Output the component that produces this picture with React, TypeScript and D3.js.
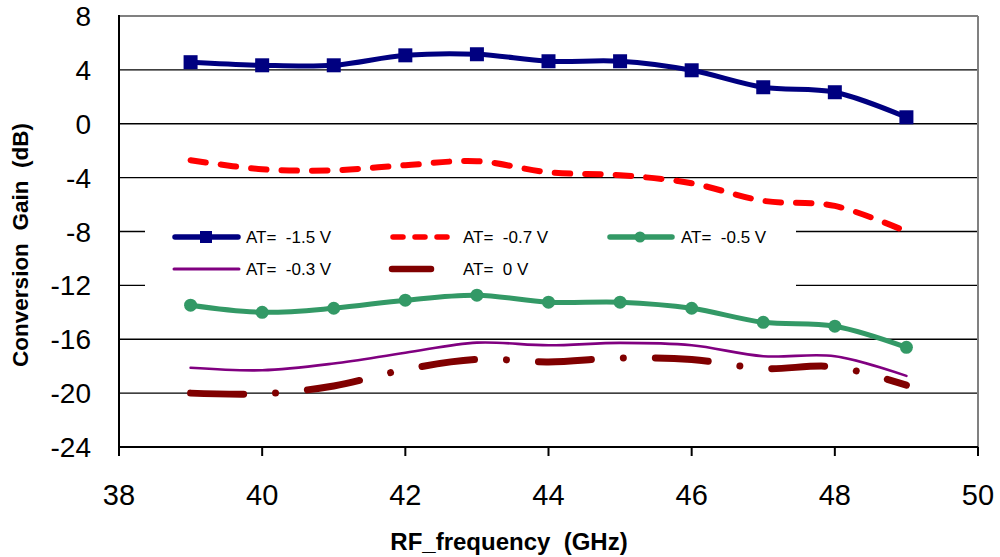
import React from "react";
import * as d3 from "d3";

const freqs = [39, 40, 41, 42, 43, 44, 45, 46, 47, 48, 49];
const gainM15 = [4.57, 4.34, 4.34, 5.08, 5.16, 4.64, 4.64, 3.97, 2.71, 2.34, 0.48];
const gainM07 = [-2.71, -3.38, -3.45, -3.08, -2.78, -3.6, -3.82, -4.42, -5.72, -6.1, -8.0];
const gainM05 = [-13.47, -14.0, -13.7, -13.1, -12.73, -13.25, -13.25, -13.7, -14.74, -15.03, -16.6];
const gainM03 = [-18.12, -18.3, -17.8, -17.0, -16.25, -16.45, -16.27, -16.45, -17.26, -17.26, -18.72];
const gain0 = [-20.0, -20.05, -19.47, -18.25, -17.5, -17.68, -17.39, -17.5, -18.17, -18.05, -19.41];

const xTicks = [38, 40, 42, 44, 46, 48, 50];
const yTicks = [8, 4, 0, -4, -8, -12, -16, -20, -24];
const legendLabels = ["AT=\u00a0 -1.5 V", "AT=\u00a0 -0.7 V", "AT=\u00a0 -0.5 V", "AT=\u00a0 -0.3 V", "AT=\u00a0 0 V"];

const W = 1000, H = 557;
const L = 119, R = 978, T = 16, B = 447;
const FONT = "'Liberation Sans', Arial, Helvetica, sans-serif";

export default function App() {
  const x = d3.scaleLinear().domain([38, 50]).range([L, R]);
  const y = d3.scaleLinear().domain([-24, 8]).range([B, T]);
  const line = d3
    .line<[number, number]>()
    .x((d) => x(d[0]))
    .y((d) => y(d[1]))
    .curve(d3.curveCardinal.tension(0));

  const series = [
    { vals: gainM15, color: "#000080", width: 5, dash: undefined as string | undefined, marker: "square" },
    { vals: gainM07, color: "#FF0000", width: 6, dash: "15.5 15", marker: "none" },
    { vals: gainM05, color: "#339966", width: 5, dash: undefined, marker: "circle" },
    { vals: gainM03, color: "#800080", width: 2.6, dash: undefined, marker: "none" },
    { vals: gain0, color: "#800000", width: 7, dash: "53 32 0.01 32", marker: "none" },
  ];

  const legendPos = [
    { lx1: 175, lx2: 238, tx: 246, ty: 237, mx: 206 },
    { lx1: 393, lx2: 448, tx: 463, ty: 237, mx: 0 },
    { lx1: 610, lx2: 672, tx: 681, ty: 237, mx: 640 },
    { lx1: 174, lx2: 239, tx: 246, ty: 269, mx: 0 },
    { lx1: 392, lx2: 431, tx: 463, ty: 269, mx: 0 },
  ];
  const legendDash = [undefined, "10 12", undefined, undefined, undefined];

  return (
    <svg
      width={W}
      height={H}
      style={{ position: "absolute", left: 0, top: 0, background: "#fff" }}
      fontFamily={FONT}
    >
      <rect x={0} y={0} width={W} height={H} fill="#fff" />
      {/* gridlines */}
      {yTicks
        .filter((t) => t !== 8 && t !== -24)
        .map((t) => (
          <line key={t} x1={L} x2={R} y1={y(t)} y2={y(t)} stroke="#000" strokeWidth={1.4} />
        ))}
      {/* frame */}
      <line x1={L} x2={R} y1={T} y2={T} stroke="#808080" strokeWidth={2} />
      <line x1={R} x2={R} y1={T} y2={B} stroke="#808080" strokeWidth={2} />
      <line x1={L} x2={L} y1={T - 1} y2={B + 1} stroke="#000" strokeWidth={2} />
      <line x1={L} x2={R} y1={B} y2={B} stroke="#000" strokeWidth={2} />
      {xTicks.map((t) => (
        <g key={t}>
          <line x1={x(t)} x2={x(t)} y1={B} y2={B + 9} stroke="#000" strokeWidth={2} />
          <text x={x(t)} y={505} textAnchor="middle" fontSize={29} fill="#000">
            {t}
          </text>
        </g>
      ))}
      {yTicks.map((t) => (
        <text key={t} x={91} y={y(t) + 10} textAnchor="end" fontSize={28} fill="#000">
          {t}
        </text>
      ))}
      {/* legend box */}
      <rect x={145} y={220} width={651} height={70} fill="#fff" />
      {/* series */}
      {series.map((s, i) => {
        const pts = freqs.map((f, j) => [f, s.vals[j]] as [number, number]);
        return (
          <g key={i}>
            <path
              d={line(pts) || ""}
              fill="none"
              stroke={s.color}
              strokeWidth={s.width}
              strokeDasharray={s.dash}
              strokeLinecap="round"
              strokeLinejoin="round"
            />
            {s.marker === "square" &&
              pts.map((p, j) => (
                <rect key={j} x={x(p[0]) - 7} y={y(p[1]) - 7} width={14} height={14} fill={s.color} />
              ))}
            {s.marker === "circle" &&
              pts.map((p, j) => <circle key={j} cx={x(p[0])} cy={y(p[1])} r={6.5} fill={s.color} />)}
          </g>
        );
      })}
      {/* legend */}
      {series.map((s, i) => {
        const p = legendPos[i];
        return (
          <g key={"lg" + i}>
            <line
              x1={p.lx1}
              x2={p.lx2}
              y1={p.ty}
              y2={p.ty}
              stroke={s.color}
              strokeWidth={i === 3 ? 3 : i === 4 ? 6.5 : 5.5}
              strokeLinecap="round"
              strokeDasharray={legendDash[i]}
            />
            {s.marker === "square" && (
              <rect x={p.mx - 6} y={p.ty - 6} width={12} height={12} fill={s.color} />
            )}
            {s.marker === "circle" && <circle cx={p.mx} cy={p.ty} r={5.5} fill={s.color} />}
            <text x={p.tx} y={p.ty + 6} fontSize={17} fill="#000">
              {legendLabels[i]}
            </text>
          </g>
        );
      })}
      {/* axis titles */}
      <text x={509} y={550} textAnchor="middle" fontSize={24} fontWeight="bold" fill="#000">
        RF_frequency{"\u00a0\u00a0"}(GHz)
      </text>
      <text
        transform="translate(28,245) rotate(-90)"
        textAnchor="middle"
        fontSize={22.5}
        fontWeight="bold"
        fill="#000"
      >
        Conversion{"\u00a0\u00a0"}Gain{"\u00a0\u00a0"}(dB)
      </text>
    </svg>
  );
}
